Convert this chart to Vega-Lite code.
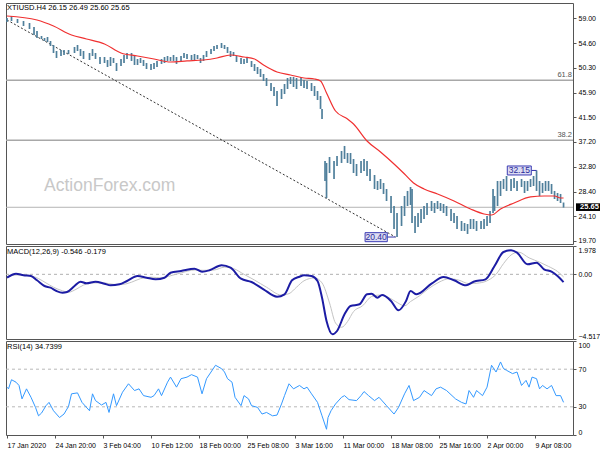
{
  "$schema": "https://vega.github.io/schema/vega-lite/v6.json",
  "background": "white",
  "padding": {"left": 2, "top": 2, "right": 0, "bottom": 0},
  "autosize": {"type": "pad"},
  "bounds": "flush",
  "spacing": 2,
  "config": {
    "font": "Liberation Sans",
    "view": {"stroke": "#555555", "strokeWidth": 1},
    "axis": {"labelFont": "Liberation Sans", "labelFontSize": 7, "labelColor": "#000000", "tickColor": "#555555", "domain": false, "grid": false, "tickSize": 3, "labelPadding": 2, "title": null, "labelOverlap": false}
  },
  "datasets": {
    "price": [
      {"b":0,"h":59.05,"l":58.35},{"b":3,"h":59.41,"l":58.52},{"b":7,"h":58.88,"l":58.17},{"b":11,"h":58.52,"l":57.64},{"b":15,"h":58.17,"l":57.11},{"b":18,"h":57.47,"l":56.05},{"b":20,"h":56.76,"l":55.52},{"b":23,"h":55.88,"l":55.35},{"b":25,"h":55.52,"l":54.99},{"b":27,"h":55.70,"l":54.82},{"b":29,"h":54.99,"l":54.11},{"b":31,"h":54.29,"l":52.88},{"b":33,"h":53.23,"l":51.99},{"b":36,"h":53.41,"l":52.35},{"b":38,"h":53.41,"l":52.52},{"b":41,"h":53.41,"l":52.70},{"b":45,"h":53.94,"l":52.88},{"b":47,"h":54.29,"l":53.23},{"b":49,"h":53.58,"l":52.35},{"b":51,"h":53.23,"l":51.82},{"b":55,"h":52.88,"l":51.64},{"b":57,"h":53.58,"l":52.35},{"b":59,"h":52.88,"l":51.82},{"b":62,"h":52.17,"l":50.94},{"b":65,"h":52.17,"l":51.11},{"b":67,"h":51.64,"l":50.41},{"b":69,"h":52.17,"l":50.58},{"b":71,"h":51.99,"l":51.11},{"b":73,"h":51.11,"l":49.70},{"b":76,"h":51.82,"l":50.58},{"b":78,"h":52.52,"l":51.11},{"b":80,"h":52.88,"l":51.82},{"b":83,"h":52.88,"l":51.47},{"b":85,"h":52.35,"l":50.76},{"b":87,"h":51.82,"l":50.76},{"b":89,"h":51.99,"l":51.11},{"b":91,"h":51.64,"l":50.58},{"b":93,"h":51.11,"l":50.05},{"b":96,"h":50.94,"l":49.88},{"b":98,"h":51.11,"l":50.05},{"b":100,"h":51.47,"l":50.41},{"b":103,"h":51.82,"l":50.94},{"b":105,"h":52.17,"l":51.11},{"b":107,"h":52.35,"l":51.47},{"b":109,"h":52.17,"l":51.47},{"b":111,"h":52.52,"l":51.47},{"b":113,"h":52.17,"l":50.94},{"b":116,"h":52.35,"l":51.47},{"b":118,"h":52.88,"l":51.99},{"b":120,"h":52.70,"l":51.82},{"b":123,"h":52.52,"l":51.64},{"b":125,"h":52.70,"l":51.64},{"b":127,"h":52.52,"l":51.82},{"b":129,"h":51.99,"l":51.11},{"b":131,"h":52.52,"l":51.47},{"b":133,"h":53.23,"l":52.17},{"b":136,"h":53.58,"l":52.70},{"b":138,"h":54.11,"l":53.23},{"b":140,"h":54.29,"l":53.58},{"b":143,"h":54.64,"l":53.76},{"b":145,"h":54.29,"l":53.58},{"b":147,"h":53.94,"l":52.88},{"b":149,"h":53.23,"l":52.17},{"b":151,"h":53.05,"l":52.35},{"b":153,"h":52.35,"l":51.29},{"b":156,"h":51.99,"l":50.94},{"b":158,"h":51.82,"l":50.94},{"b":160,"h":52.17,"l":51.11},{"b":163,"h":51.47,"l":50.41},{"b":165,"h":50.94,"l":49.70},{"b":167,"h":50.41,"l":49.17},{"b":169,"h":50.05,"l":48.64},{"b":171,"h":49.17,"l":47.94},{"b":173,"h":48.47,"l":47.05},{"b":176,"h":47.58,"l":46.17},{"b":178,"h":46.88,"l":45.29},{"b":180,"h":46.17,"l":43.53},{"b":183,"h":46.52,"l":44.76},{"b":185,"h":47.41,"l":45.64},{"b":187,"h":48.47,"l":46.52},{"b":189,"h":48.64,"l":47.41},{"b":191,"h":48.64,"l":46.88},{"b":193,"h":48.47,"l":46.52},{"b":196,"h":48.64,"l":47.05},{"b":198,"h":48.11,"l":46.70},{"b":200,"h":47.94,"l":46.52},{"b":203,"h":47.58,"l":46.17},{"b":205,"h":47.05,"l":45.29},{"b":207,"h":46.17,"l":44.58},{"b":209,"h":45.29,"l":43.00},{"b":210,"h":43.00,"l":41.23},
      {"b":212,"h":33.82,"l":30.29},{"b":213,"h":33.47,"l":27.29},{"b":215,"h":34.52,"l":31.70},{"b":218,"h":33.82,"l":30.64},{"b":220,"h":34.70,"l":32.94},{"b":223,"h":35.58,"l":33.47},{"b":225,"h":36.47,"l":34.17},{"b":227,"h":35.23,"l":33.47},{"b":229,"h":35.23,"l":33.29},{"b":231,"h":34.17,"l":31.70},{"b":233,"h":33.29,"l":31.17},{"b":236,"h":33.82,"l":31.70},{"b":238,"h":34.17,"l":32.05},{"b":240,"h":33.82,"l":31.17},{"b":242,"h":32.41,"l":30.29},{"b":245,"h":31.35,"l":28.88},{"b":247,"h":30.29,"l":28.70},{"b":249,"h":30.64,"l":28.88},{"b":251,"h":29.94,"l":28.00},{"b":253,"h":28.88,"l":26.76},{"b":256,"h":27.64,"l":24.64},{"b":258,"h":25.88,"l":21.82},{"b":260,"h":24.64,"l":20.40},{"b":263,"h":25.88,"l":22.35},{"b":265,"h":27.64,"l":24.11},{"b":267,"h":28.53,"l":25.88},{"b":269,"h":29.23,"l":26.05},{"b":270,"h":28.88,"l":22.88},{"b":272,"h":24.11,"l":21.11},{"b":274,"h":24.64,"l":22.17},{"b":276,"h":25.35,"l":22.88},{"b":278,"h":25.88,"l":23.58},{"b":280,"h":26.41,"l":24.29},{"b":283,"h":26.76,"l":25.00},{"b":285,"h":26.41,"l":24.64},{"b":287,"h":26.76,"l":25.35},{"b":289,"h":26.41,"l":25.00},{"b":291,"h":26.23,"l":24.64},{"b":293,"h":25.88,"l":24.11},{"b":296,"h":25.35,"l":23.23},{"b":298,"h":24.64,"l":22.88},{"b":300,"h":24.11,"l":21.82},{"b":303,"h":23.23,"l":21.47},{"b":305,"h":22.88,"l":21.47},{"b":307,"h":22.70,"l":20.94},{"b":309,"h":23.58,"l":21.82},{"b":311,"h":23.58,"l":21.82},{"b":313,"h":23.23,"l":21.47},{"b":316,"h":23.23,"l":21.82},{"b":318,"h":23.58,"l":21.82},{"b":320,"h":24.11,"l":22.35},{"b":322,"h":25.00,"l":22.88},{"b":324,"h":28.88,"l":24.64},{"b":325,"h":27.64,"l":25.00},{"b":327,"h":30.29,"l":25.88},{"b":329,"h":30.29,"l":27.64},{"b":331,"h":30.64,"l":28.88},{"b":333,"h":31.17,"l":28.53},{"b":336,"h":30.64,"l":28.53},{"b":338,"h":30.82,"l":29.05},{"b":340,"h":30.29,"l":28.53},{"b":343,"h":30.64,"l":29.23},{"b":345,"h":30.29,"l":28.17},{"b":347,"h":30.29,"l":28.53},{"b":349,"h":30.64,"l":29.23},{"b":351,"h":31.17,"l":29.41},{"b":353,"h":32.15,"l":28.53},{"b":355,"h":30.29,"l":27.64},{"b":357,"h":29.94,"l":28.17},{"b":359,"h":30.29,"l":28.53},{"b":361,"h":30.29,"l":28.53},{"b":363,"h":29.76,"l":28.00},{"b":365,"h":28.53,"l":27.11},{"b":367,"h":28.17,"l":26.76},{"b":369,"h":28.00,"l":26.41},{"b":371,"h":26.49,"l":25.60}
    ],
    "ma": [
      {"b":0,"v":59.41},{"b":20,"v":58.70},{"b":31,"v":57.64},{"b":43,"v":56.05},{"b":53,"v":55.35},{"b":65,"v":54.47},{"b":76,"v":52.88},{"b":87,"v":52.35},{"b":98,"v":51.82},{"b":109,"v":51.29},{"b":120,"v":51.47},{"b":131,"v":51.64},{"b":140,"v":51.99},{"b":149,"v":52.52},{"b":158,"v":52.17},{"b":165,"v":51.82},{"b":171,"v":50.76},{"b":180,"v":49.52},{"b":189,"v":48.99},{"b":198,"v":48.47},{"b":205,"v":48.29},{"b":209,"v":47.94},{"b":213,"v":45.82},{"b":219,"v":42.64},{"b":227,"v":41.23},{"b":231,"v":40.35},{"b":240,"v":37.35},{"b":249,"v":35.40},{"b":258,"v":33.29},{"b":265,"v":31.52},{"b":271,"v":29.94},{"b":278,"v":28.88},{"b":287,"v":28.00},{"b":298,"v":26.76},{"b":309,"v":25.35},{"b":318,"v":24.47},{"b":323,"v":24.29},{"b":329,"v":25.35},{"b":338,"v":26.41},{"b":349,"v":27.47},{"b":358,"v":27.64},{"b":365,"v":27.64},{"b":369,"v":27.29},{"b":371,"v":27.29}
    ],
    "trend": [{"b":0,"v":58.70},{"b":259,"v":20.40}],
    "macd": [
      {"b":0,"m":-0.236},{"b":6,"m":0.044},{"b":11,"m":-0.068},{"b":16,"m":-0.117},{"b":20,"m":-0.418},{"b":25,"m":-0.816},{"b":29,"m":-0.934},{"b":33,"m":-1.165},{"b":37,"m":-1.283},{"b":40,"m":-1.235},{"b":45,"m":-0.816},{"b":49,"m":-0.515},{"b":53,"m":-0.627},{"b":59,"m":-0.515},{"b":65,"m":-0.655},{"b":69,"m":-0.767},{"b":75,"m":-0.697},{"b":80,"m":-0.466},{"b":87,"m":-0.117},{"b":93,"m":-0.236},{"b":99,"m":-0.348},{"b":105,"m":-0.236},{"b":109,"m":0.113},{"b":116,"m":0.232},{"b":125,"m":0.393},{"b":130,"m":0.183},{"b":135,"m":0.281},{"b":143,"m":0.630},{"b":149,"m":0.462},{"b":156,"m":-0.306},{"b":163,"m":-0.536},{"b":171,"m":-1.046},{"b":180,"m":-1.563},{"b":185,"m":-1.395},{"b":190,"m":-0.418},{"b":195,"m":-0.166},{"b":198,"m":-0.068},{"b":203,"m":-0.117},{"b":207,"m":-0.466},{"b":210,"m":-1.633},{"b":213,"m":-3.260},{"b":217,"m":-4.189},{"b":220,"m":-3.958},{"b":225,"m":-2.792},{"b":229,"m":-2.212},{"b":235,"m":-2.094},{"b":240,"m":-1.395},{"b":243,"m":-1.353},{"b":247,"m":-1.633},{"b":250,"m":-1.444},{"b":256,"m":-1.863},{"b":261,"m":-2.513},{"b":266,"m":-1.863},{"b":269,"m":-1.165},{"b":273,"m":-1.395},{"b":283,"m":-0.655},{"b":291,"m":-0.187},{"b":298,"m":-0.418},{"b":306,"m":-0.767},{"b":311,"m":-0.515},{"b":319,"m":-0.348},{"b":325,"m":0.581},{"b":331,"m":1.559},{"b":336,"m":1.678},{"b":340,"m":1.510},{"b":347,"m":0.700},{"b":353,"m":0.812},{"b":358,"m":0.351},{"b":363,"m":0.183},{"b":367,"m":-0.117},{"b":371,"m":-0.546}
    ],
    "signal": [
      {"b":0,"s":-0.15},{"b":6,"s":-0.05},{"b":11,"s":-0.05},{"b":16,"s":-0.10},{"b":21,"s":-0.30},{"b":26,"s":-0.60},{"b":31,"s":-0.90},{"b":37,"s":-1.15},{"b":41,"s":-1.25},{"b":46,"s":-1.05},{"b":51,"s":-0.75},{"b":58,"s":-0.60},{"b":65,"s":-0.60},{"b":71,"s":-0.70},{"b":77,"s":-0.70},{"b":83,"s":-0.55},{"b":89,"s":-0.30},{"b":96,"s":-0.20},{"b":103,"s":-0.25},{"b":109,"s":-0.10},{"b":116,"s":0.10},{"b":125,"s":0.30},{"b":131,"s":0.28},{"b":138,"s":0.30},{"b":145,"s":0.50},{"b":151,"s":0.40},{"b":158,"s":0.00},{"b":165,"s":-0.40},{"b":173,"s":-0.90},{"b":183,"s":-1.45},{"b":188,"s":-1.35},{"b":193,"s":-0.90},{"b":198,"s":-0.45},{"b":205,"s":-0.25},{"b":210,"s":-0.60},{"b":215,"s":-2.00},{"b":219,"s":-3.40},{"b":223,"s":-3.70},{"b":227,"s":-3.30},{"b":231,"s":-2.60},{"b":237,"s":-2.20},{"b":243,"s":-1.55},{"b":248,"s":-1.45},{"b":253,"s":-1.55},{"b":259,"s":-1.90},{"b":265,"s":-2.20},{"b":269,"s":-1.90},{"b":275,"s":-1.50},{"b":281,"s":-1.00},{"b":288,"s":-0.55},{"b":295,"s":-0.30},{"b":301,"s":-0.40},{"b":308,"s":-0.65},{"b":315,"s":-0.60},{"b":321,"s":-0.40},{"b":326,"s":0.00},{"b":331,"s":0.75},{"b":336,"s":1.35},{"b":341,"s":1.55},{"b":348,"s":1.15},{"b":355,"s":0.85},{"b":361,"s":0.55},{"b":367,"s":0.20},{"b":371,"s":-0.179}
    ],
    "rsi": [
      {"b":0,"r":50.9},{"b":1,"r":49.1},{"b":3,"r":58.8},{"b":6,"r":56.2},{"b":8,"r":52.7},{"b":10,"r":38.4},{"b":13,"r":49.1},{"b":16,"r":40.1},{"b":19,"r":29.4},{"b":21,"r":20.4},{"b":23,"r":23.3},{"b":26,"r":31.2},{"b":28,"r":34.7},{"b":31,"r":25.8},{"b":35,"r":18.6},{"b":38,"r":22.3},{"b":41,"r":30.4},{"b":43,"r":43.8},{"b":47,"r":44.8},{"b":50,"r":34.7},{"b":55,"r":25.8},{"b":57,"r":43.8},{"b":59,"r":36.6},{"b":63,"r":31.9},{"b":66,"r":34.7},{"b":68,"r":24.0},{"b":71,"r":43.8},{"b":73,"r":31.2},{"b":77,"r":45.5},{"b":81,"r":54.5},{"b":85,"r":47.3},{"b":88,"r":49.1},{"b":91,"r":41.9},{"b":96,"r":40.1},{"b":98,"r":41.9},{"b":101,"r":49.1},{"b":103,"r":41.9},{"b":107,"r":56.2},{"b":109,"r":61.6},{"b":113,"r":50.9},{"b":116,"r":59.9},{"b":120,"r":61.6},{"b":123,"r":64.2},{"b":127,"r":61.6},{"b":130,"r":43.8},{"b":133,"r":59.9},{"b":136,"r":67.0},{"b":139,"r":74.2},{"b":143,"r":70.6},{"b":145,"r":67.0},{"b":147,"r":59.9},{"b":150,"r":56.2},{"b":152,"r":40.1},{"b":156,"r":31.2},{"b":158,"r":41.9},{"b":161,"r":38.4},{"b":163,"r":31.2},{"b":167,"r":29.4},{"b":170,"r":22.3},{"b":173,"r":24.0},{"b":177,"r":20.4},{"b":180,"r":21.2},{"b":183,"r":33.0},{"b":185,"r":41.9},{"b":188,"r":54.5},{"b":191,"r":49.1},{"b":195,"r":52.7},{"b":198,"r":49.1},{"b":200,"r":50.9},{"b":203,"r":43.8},{"b":207,"r":34.7},{"b":210,"r":20.4},{"b":213,"r":6.1},{"b":214,"r":18.6},{"b":216,"r":25.8},{"b":219,"r":33.0},{"b":223,"r":40.1},{"b":225,"r":41.9},{"b":228,"r":37.6},{"b":233,"r":36.6},{"b":236,"r":41.9},{"b":238,"r":46.2},{"b":241,"r":41.9},{"b":245,"r":36.6},{"b":248,"r":40.1},{"b":253,"r":31.2},{"b":258,"r":22.3},{"b":261,"r":29.4},{"b":265,"r":43.8},{"b":268,"r":52.7},{"b":271,"r":36.6},{"b":275,"r":40.1},{"b":278,"r":47.3},{"b":283,"r":41.9},{"b":286,"r":49.1},{"b":289,"r":50.9},{"b":293,"r":47.3},{"b":299,"r":38.4},{"b":303,"r":34.7},{"b":306,"r":33.0},{"b":308,"r":47.3},{"b":311,"r":40.1},{"b":313,"r":47.3},{"b":317,"r":41.9},{"b":320,"r":50.9},{"b":323,"r":74.2},{"b":326,"r":67.0},{"b":329,"r":77.7},{"b":331,"r":70.6},{"b":333,"r":68.8},{"b":337,"r":65.3},{"b":340,"r":67.0},{"b":343,"r":52.7},{"b":346,"r":58.1},{"b":348,"r":50.9},{"b":350,"r":61.6},{"b":353,"r":59.9},{"b":355,"r":49.1},{"b":357,"r":52.7},{"b":360,"r":49.1},{"b":363,"r":52.7},{"b":366,"r":41.9},{"b":369,"r":41.9},{"b":371,"r":34.74}
    ]
  },
  "vconcat": [
    {
      "width": 567,
      "height": 241,
      "data": {"values": [{}]},
      "layer": [
        {"mark": {"type": "rule", "color": "#a8a8a8", "strokeWidth": 1.5}, "encoding": {"y": {"datum": 48.07}}},
        {"mark": {"type": "rule", "color": "#a8a8a8", "strokeWidth": 1.5}, "encoding": {"y": {"datum": 37.50}}},
        {"mark": {"type": "rule", "color": "#b4b4b4", "strokeWidth": 1}, "encoding": {"y": {"datum": 25.65}}},
        {"mark": {"type": "text", "text": "ActionForex.com", "align": "left", "baseline": "middle", "fontSize": 17.5, "color": "#c8c8c8"}, "encoding": {"x": {"datum": 24.7}, "y": {"datum": 29.4}}},
        {
          "data": {"name": "trend"},
          "mark": {"type": "line", "color": "#333333", "strokeWidth": 1, "strokeDash": [2, 2]},
          "encoding": {"x": {"field": "b", "type": "quantitative"}, "y": {"field": "v", "type": "quantitative"}}
        },
        {
          "data": {"name": "price"},
          "mark": {"type": "rule", "color": "#4f7f9b", "strokeWidth": 1.7},
          "encoding": {
            "x": {"field": "b", "type": "quantitative", "scale": {"domain": [-0.67, 377.3], "nice": false, "zero": false}, "axis": null},
            "y": {"field": "l", "type": "quantitative", "scale": {"domain": [19.17, 61.70], "nice": false, "zero": false},
                  "axis": {"orient": "right", "values": [59.0, 54.6, 50.3, 45.9, 41.5, 37.2, 32.8, 28.4, 24.1, 19.7], "tickCount": 30, "format": ".2f", "labelOverlap": false}},
            "y2": {"field": "h"}
          }
        },
        {
          "data": {"name": "ma"},
          "mark": {"type": "line", "color": "#f03030", "strokeWidth": 1.2, "interpolate": "monotone"},
          "encoding": {"x": {"field": "b", "type": "quantitative"}, "y": {"field": "v", "type": "quantitative"}}
        },
        {"mark": {"type": "text", "text": "XTIUSD.H4  26.15 26.49 25.60 25.65", "align": "left", "baseline": "middle", "fontSize": 7.5, "color": "#000000"}, "encoding": {"x": {"datum": 0}, "y": {"datum": 60.82}}},
        {"mark": {"type": "text", "text": "61.8", "align": "right", "baseline": "bottom", "dx": -1, "dy": -1, "fontSize": 7.5, "color": "#555555"}, "encoding": {"x": {"datum": 377.3}, "y": {"datum": 48.07}}},
        {"mark": {"type": "text", "text": "38.2", "align": "right", "baseline": "bottom", "dx": -1, "dy": -1, "fontSize": 7.5, "color": "#555555"}, "encoding": {"x": {"datum": 377.3}, "y": {"datum": 37.50}}},
        {"mark": {"type": "rule", "color": "#3030a8", "strokeWidth": 1}, "encoding": {"x": {"datum": 349.5}, "x2": {"datum": 353}, "y": {"datum": 32.15}}},
        {"mark": {"type": "rect", "fill": "#dcdcf2", "stroke": "#3c3cb4", "strokeWidth": 1}, "encoding": {"x": {"datum": 333.5}, "x2": {"datum": 349.5}, "y": {"datum": 31.35}, "y2": {"datum": 32.94}}},
        {"mark": {"type": "text", "text": "32.15", "align": "center", "baseline": "middle", "fontSize": 8.5, "color": "#2a2a9a"}, "encoding": {"x": {"datum": 341.5}, "y": {"datum": 32.15}}},
        {"mark": {"type": "rule", "color": "#3030a8", "strokeWidth": 1}, "encoding": {"x": {"datum": 253.5}, "x2": {"datum": 259}, "y": {"datum": 20.40}}},
        {"mark": {"type": "rect", "fill": "#dcdcf2", "stroke": "#3c3cb4", "strokeWidth": 1}, "encoding": {"x": {"datum": 238.7}, "x2": {"datum": 253.5}, "y": {"datum": 19.58}, "y2": {"datum": 21.17}}},
        {"mark": {"type": "text", "text": "20.40", "align": "center", "baseline": "middle", "fontSize": 8.5, "color": "#2a2a9a"}, "encoding": {"x": {"datum": 246.1}, "y": {"datum": 20.40}}},
        {"mark": {"type": "rect", "fill": "#000000"}, "encoding": {"x": {"datum": 379.3}, "x2": {"datum": 397.3}, "y": {"datum": 25.00}, "y2": {"datum": 26.35}}},
        {"mark": {"type": "text", "text": "25.65", "align": "center", "baseline": "middle", "fontSize": 7.5, "fontWeight": "bold", "color": "#ffffff"}, "encoding": {"x": {"datum": 388.3}, "y": {"datum": 25.65}}}
      ]
    },
    {
      "width": 567,
      "height": 93,
      "data": {"values": [{}]},
      "layer": [
        {"mark": {"type": "rule", "color": "#b0b0b0", "strokeWidth": 1, "strokeDash": [3, 3]}, "encoding": {"y": {"datum": 0}}},
        {
          "data": {"name": "signal"},
          "mark": {"type": "line", "color": "#c4c4c4", "strokeWidth": 1, "interpolate": "monotone"},
          "encoding": {
            "x": {"field": "b", "type": "quantitative", "scale": {"domain": [-0.67, 377.3], "nice": false, "zero": false}, "axis": null},
            "y": {"field": "s", "type": "quantitative", "scale": {"domain": [-4.517, 1.978], "nice": false, "zero": false},
                  "axis": {"orient": "right", "values": [1.978, 0, -4.517], "tickCount": 30, "labelFlush": true, "labelOverlap": false, "labelExpr": "datum.value == 0 ? '0.00' : format(datum.value, '.3f')"}}
          }
        },
        {
          "data": {"name": "macd"},
          "mark": {"type": "line", "color": "#1c1ca4", "strokeWidth": 2, "interpolate": "monotone"},
          "encoding": {"x": {"field": "b", "type": "quantitative"}, "y": {"field": "m", "type": "quantitative"}}
        },
        {"mark": {"type": "text", "text": "MACD(12,26,9) -0.546 -0.179", "align": "left", "baseline": "middle", "fontSize": 7.5, "color": "#000000"}, "encoding": {"x": {"datum": 0}, "y": {"datum": 1.56}}}
      ]
    },
    {
      "width": 567,
      "height": 94,
      "data": {"values": [{}]},
      "layer": [
        {"mark": {"type": "rule", "color": "#b8b8b8", "strokeWidth": 1, "strokeDash": [3, 3]}, "encoding": {"y": {"datum": 70}}},
        {"mark": {"type": "rule", "color": "#b8b8b8", "strokeWidth": 1, "strokeDash": [3, 3]}, "encoding": {"y": {"datum": 30}}},
        {
          "data": {"name": "rsi"},
          "mark": {"type": "line", "color": "#3399ff", "strokeWidth": 1},
          "encoding": {
            "x": {"field": "b", "type": "quantitative", "scale": {"domain": [-0.67, 377.3], "nice": false, "zero": false},
                  "axis": {"orient": "bottom", "values": [0, 32, 64, 96, 128, 160, 192, 224, 256, 288, 320, 352], "tickCount": 30, "labelAlign": "left", "labelFlush": false, "labelOverlap": false, "labelPadding": 3,
                           "labelExpr": "['17 Jan 2020','24 Jan 20:00','3 Feb 04:00','10 Feb 12:00','18 Feb 00:00','25 Feb 08:00','3 Mar 16:00','11 Mar 00:00','18 Mar 08:00','25 Mar 16:00','2 Apr 00:00','9 Apr 08:00'][round(datum.value / 32)]"}},
            "y": {"field": "r", "type": "quantitative", "scale": {"domain": [0, 100], "nice": false, "zero": false},
                  "axis": {"orient": "right", "values": [100, 70, 30, 0], "tickCount": 30, "labelFlush": true, "labelOverlap": false}}
          }
        },
        {"mark": {"type": "text", "text": "RSI(14) 34.7399", "align": "left", "baseline": "middle", "fontSize": 7.5, "color": "#000000"}, "encoding": {"x": {"datum": 0}, "y": {"datum": 93.5}}}
      ]
    }
  ]
}
